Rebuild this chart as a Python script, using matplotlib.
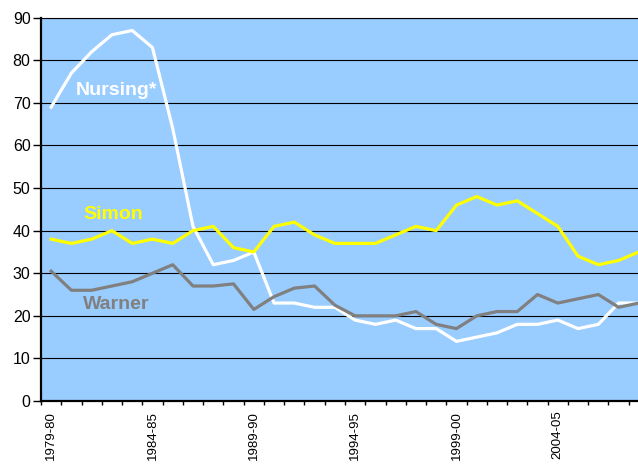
import matplotlib.pyplot as plt
import numpy as np

plt.rcParams['font.family'] = ['Liberation Sans', 'DejaVu Sans']

years = ['1979-80', '1980-81', '1981-82', '1982-83', '1983-84', '1984-85',
         '1985-86', '1986-87', '1987-88', '1988-89', '1989-90', '1990-91',
         '1991-92', '1992-93', '1993-94', '1994-95', '1995-96', '1996-97',
         '1997-98', '1998-99', '1999-00', '2000-01', '2001-02', '2002-03',
         '2003-04', '2004-05', '2005-06', '2006-07', '2007-08', '2008-09']
nursing = [69, 77, 82, 86, 87, 83, 64, 41, 32, 33, 35, 23, 23, 22, 22,
           19, 18, 19, 17, 17, 14, 15, 16, 18, 18, 19, 17, 18, 23, 23]
simon = [38, 37, 38, 40, 37, 38, 37, 40, 41, 36, 35, 41, 42, 39, 37,
         37, 37, 39, 41, 40, 46, 48, 46, 47, 44, 41, 34, 32, 33, 35]
warner = [30.5, 26, 26, 27, 28, 30, 32, 27, 27, 27.5, 21.5, 24.5, 26.5, 27, 22.5,
          20, 20, 20, 21, 18, 17, 20, 21, 21, 25, 23, 24, 25, 22, 23]

fig = plt.figure(figsize=(6.38, 4.66), dpi=100)
# plot area runs past the right edge, as in the cropped original
ax = fig.add_axes([41 / 638, 65 / 466, 608 / 638, 383.3 / 466])
ax.set_facecolor('#99CCFF')

x = np.arange(len(years))
ax.plot(x, nursing, color='white', lw=2.3, zorder=3)
ax.plot(x, simon, color='#FFFF00', lw=2.3, zorder=3)
ax.plot(x, warner, color='#808080', lw=2.3, zorder=3)

ax.text(1.23, 73, 'Nursing*', color='white', fontsize=14, fontweight='bold', va='center')
ax.text(1.59, 43.9, 'Simon', color='#FFFF00', fontsize=14, fontweight='bold', va='center')
ax.text(1.56, 22.6, 'Warner', color='#808080', fontsize=14, fontweight='bold', va='center')

ax.set_xlim(-0.5, len(years) - 0.5)
ax.set_ylim(0, 90)
ax.set_yticks(np.arange(0, 91, 10))
ax.yaxis.grid(True, color='black', lw=0.8)
ax.set_axisbelow(True)

ax.set_xticks(x[::5])
ax.set_xticklabels(years[::5], rotation=90, fontsize=9.5)
ax.set_xticks(np.arange(-0.5, len(years), 1), minor=True)
ax.tick_params(axis='x', which='major', length=0, pad=7)
ax.tick_params(axis='x', which='minor', length=3, width=1, direction='out')
ax.tick_params(axis='y', length=5.5, width=1, pad=2, labelsize=11.5)

for s in ['left', 'bottom']:
    ax.spines[s].set_linewidth(1.6)
ax.spines['top'].set_linewidth(0.8)
ax.spines['right'].set_visible(False)

fig.savefig('out.png', dpi=100)
